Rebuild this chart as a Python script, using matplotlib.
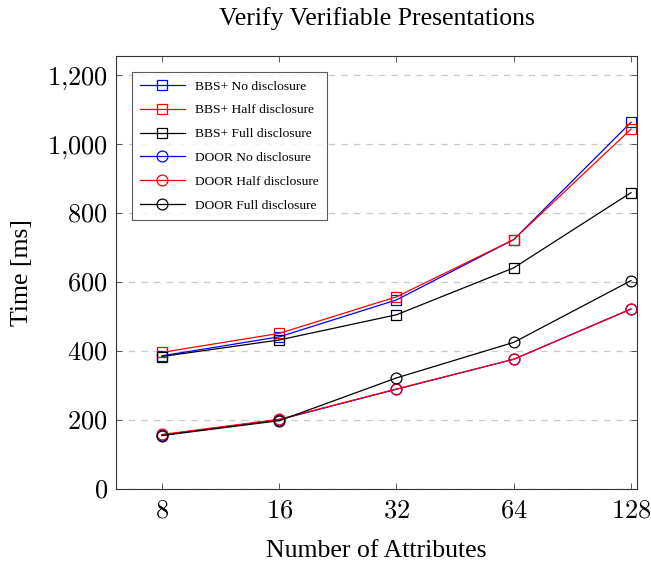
import matplotlib.pyplot as plt
from matplotlib.ticker import FuncFormatter, FixedLocator

plt.rcParams['font.family'] = ['Liberation Serif', 'DejaVu Serif']
plt.rcParams['mathtext.fontset'] = 'cm'

# --- data ---
attributes = [8, 16, 32, 64, 128]
bbs_none = [386, 441, 548, 723, 1063]
bbs_half = [396, 451, 557, 723, 1043]
bbs_full = [384, 432, 505, 641, 859]
door_none = [156, 201, 289, 376, 522]
door_half = [158, 202, 290, 376, 521]
door_full = [155, 198, 322, 425, 604]

series = [
    ("BBS+ No disclosure", bbs_none, "blue", "s"),
    ("BBS+ Half disclosure", bbs_half, "red", "s"),
    ("BBS+ Full disclosure", bbs_full, "black", "s"),
    ("DOOR No disclosure", door_none, "blue", "o"),
    ("DOOR Half disclosure", door_half, "red", "o"),
    ("DOOR Full disclosure", door_full, "black", "o"),
]

fig = plt.figure(figsize=(6.51, 5.61), dpi=100)
ax = fig.add_axes([116 / 651, 1 - 489 / 561, 521 / 651, 433 / 561])

for label, vals, col, mk in series:
    ax.plot(attributes, vals, color=col, marker=mk, markersize=7.8,
            markerfacecolor="none", markeredgecolor=col, linewidth=0.9,
            markeredgewidth=0.9, label=label)

ax.set_xscale("log", base=2)
ax.set_xlim(8 * 2 ** -0.392, 128 * 2 ** 0.051)
ax.set_ylim(0, 1255)
ax.xaxis.set_major_locator(FixedLocator(attributes))
ax.xaxis.set_minor_locator(FixedLocator([]))
ax.xaxis.set_major_formatter(FuncFormatter(lambda v, p: f"${int(v)}$"))
ax.set_yticks([0, 200, 400, 600, 800, 1000, 1200])
ax.yaxis.set_major_formatter(
    FuncFormatter(lambda v, p: "$" + f"{int(v):,}".replace(",", "{,}") + "$"))

ax.grid(axis="y", color="#c8c8c8", linestyle=(0, (5, 5)), linewidth=0.9)
ax.set_axisbelow(True)
ax.tick_params(direction="in", top=True, right=True, labelsize=19,
               length=4, width=0.6, colors="#444444", labelcolor="black")
ax.tick_params(axis="y", pad=6)
ax.tick_params(axis="x", pad=8)
for s in ax.spines.values():
    s.set_linewidth(0.8)
    s.set_color("#333333")

ax.set_title("Verify Verifiable Presentations", fontsize=18.5, pad=22)
ax.set_xlabel("Number of Attributes", fontsize=18.5, labelpad=13)
ax.set_ylabel("Time [ms]", fontsize=18.5, labelpad=10)

leg = ax.legend(loc="upper left", bbox_to_anchor=(0.031, 0.963), fontsize=9.7,
                frameon=True, fancybox=False, edgecolor="#333333",
                handlelength=3.3, labelspacing=0.85, borderpad=0.6,
                handletextpad=0.8, borderaxespad=0)
leg.get_frame().set_linewidth(0.8)

fig.savefig("out.png", dpi=100)
